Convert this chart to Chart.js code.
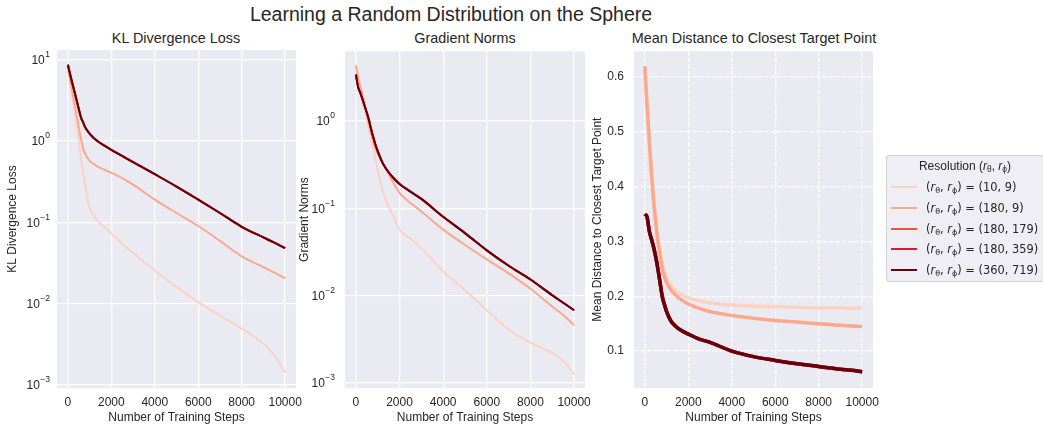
<!DOCTYPE html>
<html>
<head>
<meta charset="utf-8">
<script src="https://cdn.jsdelivr.net/npm/chart.js@4.4.1/dist/chart.umd.min.js"></script>
<style>
  body { margin: 0; width: 1043px; height: 425px; overflow: hidden; background: #fff;
         font-family: "Liberation Sans", Arial, sans-serif; color: #262626; position: relative; }
  .panel { position: absolute; top: 34px; height: 391px; }
  .sub-title { position: absolute; top: 30px; width: 300px; text-align: center; font-size: 14.4px; line-height: 17px; }
  #suptitle { position: absolute; left: 0; width: 902px; top: 3px; text-align: center; font-size: 19.5px; line-height: 22px; }
  #legend { position: absolute; left: 886px; top: 155px; width: 158px; height: 127px; box-sizing: border-box;
            border: 1px solid #d0d0d0; border-radius: 3px; background: #eeeef4; font-size: 12px; }
  #legend .ttl { position: absolute; left: 0; right: 0; top: 2px; text-align: center; line-height: 16px; }
  #legend .row { position: absolute; left: 0; height: 16px; line-height: 16px; white-space: nowrap; }
  #legend .swatch { position: absolute; left: 4px; top: 7px; width: 26px; height: 2px; }
  #legend .lbl { position: absolute; left: 39px; top: 0; font-family: "DejaVu Sans", sans-serif; font-size: 11.4px; }
  sub { font-size: 70%; vertical-align: -2px; line-height: 0; }
</style>
</head>
<body>
<div id="suptitle">Learning a Random Distribution on the Sphere</div>
<div class="sub-title" style="left:26px">KL Divergence Loss</div>
<div class="sub-title" style="left:315px">Gradient Norms</div>
<div class="sub-title" style="left:604px">Mean Distance to Closest Target Point</div>

<div class="panel" style="left:0px;width:316px"><canvas id="klChart"></canvas></div>
<div class="panel" style="left:292px;width:313px"><canvas id="gradChart"></canvas></div>
<div class="panel" style="left:585px;width:308px"><canvas id="distChart"></canvas></div>

<div id="legend"><div class="ttl">Resolution (<i>r</i><sub>θ</sub>, <i>r</i><sub>ϕ</sub>)</div></div>

<script>
const steps = [0, 100, 200, 300, 400, 500, 600, 700, 800, 900, 1000, 1200, 1400, 1700,
               2000, 2500, 3000, 4000, 5000, 6000, 7000, 8000, 9000, 9500, 10000];

const xTicks = [0, 2000, 4000, 6000, 8000, 10000];
const logTicks = [10, 1, 0.1, 0.01, 0.001];
const distTicks = [0.1, 0.2, 0.3, 0.4, 0.5, 0.6];

const resolutions = [[10, 9], [180, 9], [180, 179], [180, 359], [360, 719]];
const seriesColors = ['#fcd2c2', '#fca88b', '#f4503a', '#d42121', '#67000d'];

// KL divergence loss
const klRes10_9 = [7.7, 5.2, 3.5, 2.4, 1.6, 1.02, 0.62, 0.40, 0.28, 0.195, 0.15, 0.12, 0.102, 0.087,
                   0.073, 0.054, 0.042, 0.0255, 0.016, 0.0104, 0.0071, 0.0049, 0.0032, 0.0023, 0.00142];
const klRes180_9 = [8.1, 5.8, 4.1, 2.95, 2.1, 1.5, 1.08, 0.82, 0.69, 0.62, 0.57, 0.52, 0.48, 0.44,
                    0.405, 0.35, 0.29, 0.19, 0.13, 0.090, 0.059, 0.038, 0.028, 0.024, 0.0205];
const klRes360_719 = [8.7, 6.7, 5.2, 4.1, 3.2, 2.5, 1.96, 1.70, 1.47, 1.34, 1.23, 1.08, 0.98, 0.87,
                      0.78, 0.655, 0.55, 0.39, 0.275, 0.19, 0.13, 0.088, 0.065, 0.056, 0.048];
// the two middle resolutions sit underneath the 360x719 curve
const klRes180_179 = klRes360_719;
const klRes180_359 = klRes360_719;

// gradient norms
const gradRes10_9 = [4.3, 3.1, 2.4, 1.8, 1.35, 1.05, 0.8, 0.61, 0.47, 0.355, 0.27, 0.17, 0.12, 0.083,
                     0.057, 0.045, 0.035, 0.019, 0.0115, 0.0068, 0.0041, 0.0029, 0.0022, 0.0018, 0.00126];
const gradRes180_9 = [4.3, 3.2, 2.5, 2.0, 1.6, 1.2, 0.93, 0.72, 0.58, 0.48, 0.42, 0.34, 0.27, 0.2,
                      0.15, 0.115, 0.092, 0.057, 0.038, 0.026, 0.018, 0.012, 0.0075, 0.006, 0.0046];
const gradRes360_719 = [3.4, 2.45, 2.1, 1.77, 1.48, 1.24, 1.02, 0.80, 0.645, 0.53, 0.45, 0.34, 0.28, 0.225,
                        0.19, 0.155, 0.128, 0.08, 0.052, 0.033, 0.022, 0.0153, 0.0101, 0.0083, 0.0068];
const gradRes180_179 = gradRes360_719;
const gradRes180_359 = gradRes360_719;

// mean distance to closest target point
const distRes10_9 = [0.61, 0.545, 0.49, 0.435, 0.385, 0.34, 0.305, 0.28, 0.26, 0.245, 0.233, 0.22, 0.211, 0.203,
                     0.197, 0.192, 0.188, 0.184, 0.182, 0.181, 0.18, 0.179, 0.179, 0.178, 0.179];
const distRes180_9 = [0.62, 0.55, 0.485, 0.425, 0.375, 0.335, 0.30, 0.276, 0.25, 0.236, 0.225, 0.212, 0.203, 0.193,
                      0.186, 0.178, 0.172, 0.165, 0.16, 0.156, 0.153, 0.15, 0.147, 0.146, 0.145];
const distRes360_719 = [0.35, 0.345, 0.32, 0.305, 0.29, 0.272, 0.25, 0.225, 0.2, 0.185, 0.172, 0.155, 0.146, 0.137,
                        0.131, 0.122, 0.116, 0.1, 0.09, 0.083, 0.077, 0.072, 0.067, 0.065, 0.0625];
const distRes180_179 = distRes360_719;
const distRes180_359 = distRes360_719;

const FONT = '"Liberation Sans", Arial, sans-serif';
const TEXT = '#262626';

function legendLabel(r) {
  return `(<i>r</i><sub>θ</sub>, <i>r</i><sub>ϕ</sub>) = (${r[0]}, ${r[1]})`;
}

// seaborn-like grey plot area
const plotBg = {
  id: 'plotBg',
  beforeDraw(chart) {
    const { ctx, chartArea: a } = chart;
    ctx.save();
    ctx.fillStyle = '#eaeaf2';
    ctx.fillRect(a.left, a.top, a.right - a.left, a.bottom - a.top);
    ctx.restore();
  }
};

// "10" with a real raised exponent for the log axes
const powerLabels = {
  id: 'powerLabels',
  afterDraw(chart, args, opts) {
    if (!opts.on) return;
    const y = chart.scales.y;
    const { ctx } = chart;
    const right = chart.chartArea.left - opts.pad;
    ctx.save();
    ctx.fillStyle = TEXT;
    ctx.textBaseline = 'middle';
    ctx.textAlign = 'right';
    y.ticks.forEach(t => {
      const py = y.getPixelForValue(t.value);
      const exp = String(Math.round(Math.log10(t.value))).replace('-', '\u2212');
      ctx.font = '8.5px ' + FONT;
      const ew = ctx.measureText(exp).width;
      ctx.fillText(exp, right, py - 5);
      ctx.font = '12px ' + FONT;
      ctx.fillText('10', right - ew - 0.5, py + 1);
    });
    ctx.restore();
  }
};

function makePanel(canvasId, o) {
  const datasets = o.series.map((vals, i) => ({
    label: resolutions[i].join('x'),
    data: steps.map((s, j) => ({ x: s, y: vals[j] })),
    borderColor: seriesColors[i],
    borderWidth: o.lineWidth,
    pointRadius: 0,
    cubicInterpolationMode: 'monotone',
    order: o.series.length - 1 - i   // last series on top, like matplotlib
  }));

  const yScale = {
    type: o.yType,
    min: o.yMin,
    max: o.yMax,
    afterBuildTicks: s => { s.ticks = o.yTicks.map(v => ({ value: v })); },
    afterFit: s => { s.width = o.yWidth; },
    grid: { color: '#ffffff', lineWidth: 1.3, drawTicks: false },
    border: { display: false, dash: o.dash || [] },
    ticks: {
      font: { family: FONT, size: 12 }, color: TEXT, padding: o.yPad,
      callback: o.log ? () => '' : v => v.toFixed(1)
    },
    title: { display: true, text: o.yTitle, font: { family: FONT, size: 12 }, color: TEXT, padding: { top: 5, bottom: 0 } }
  };

  return new Chart(document.getElementById(canvasId), {
    type: 'line',
    data: { datasets },
    options: {
      responsive: true,
      maintainAspectRatio: false,
      animation: false,
      layout: { padding: { top: 16, right: 20, bottom: 0, left: 0 } },
      plugins: {
        legend: { display: false },
        tooltip: { enabled: false },
        powerLabels: { on: !!o.log, pad: o.yPad }
      },
      scales: {
        x: {
          type: 'linear',
          min: -500,
          max: 10500,
          afterBuildTicks: s => { s.ticks = xTicks.map(v => ({ value: v })); },
          afterFit: s => { s.height = 37; },
          grid: { color: '#ffffff', lineWidth: 1.3, drawTicks: false },
          border: { display: false, dash: o.dash || [] },
          ticks: {
            font: { family: FONT, size: 12 }, color: TEXT, padding: 7, maxRotation: 0, autoSkip: false,
            callback: v => String(v)
          },
          title: { display: true, text: 'Number of Training Steps', font: { family: FONT, size: 12 }, color: TEXT, padding: { top: 0, bottom: 0 } }
        },
        y: yScale
      }
    },
    plugins: [plotBg, powerLabels]
  });
}

makePanel('klChart', {
  series: [klRes10_9, klRes180_9, klRes180_179, klRes180_359, klRes360_719],
  lineWidth: 2, log: true,
  yType: 'logarithmic', yMin: Math.pow(10, -3.04), yMax: Math.pow(10, 1.12),
  yTicks: logTicks, yWidth: 57, yPad: 7,
  yTitle: 'KL Divergence Loss'
});

makePanel('gradChart', {
  series: [gradRes10_9, gradRes180_9, gradRes180_179, gradRes180_359, gradRes360_719],
  lineWidth: 2, log: true,
  yType: 'logarithmic', yMin: Math.pow(10, -3.057), yMax: Math.pow(10, 0.798),
  yTicks: logTicks.slice(1), yWidth: 53, yPad: 10,
  yTitle: 'Gradient Norms'
});

makePanel('distChart', {
  series: [distRes10_9, distRes180_9, distRes180_179, distRes180_359, distRes360_719],
  lineWidth: 3.5,
  yType: 'linear', yMin: 0.0327, yMax: 0.6473,
  yTicks: distTicks, yWidth: 49, yPad: 10,
  yTitle: 'Mean Distance to Closest Target Point',
  dash: [4.5, 2]
});

// legend box on the right
const legend = document.getElementById('legend');
resolutions.forEach((r, i) => {
  const row = document.createElement('div');
  row.className = 'row';
  row.style.top = (23 + i * 20.75) + 'px';
  row.style.width = '100%';
  row.innerHTML = `<span class="swatch" style="background:${seriesColors[i]}"></span><span class="lbl">${legendLabel(r)}</span>`;
  legend.appendChild(row);
});
</script>
</body>
</html>
